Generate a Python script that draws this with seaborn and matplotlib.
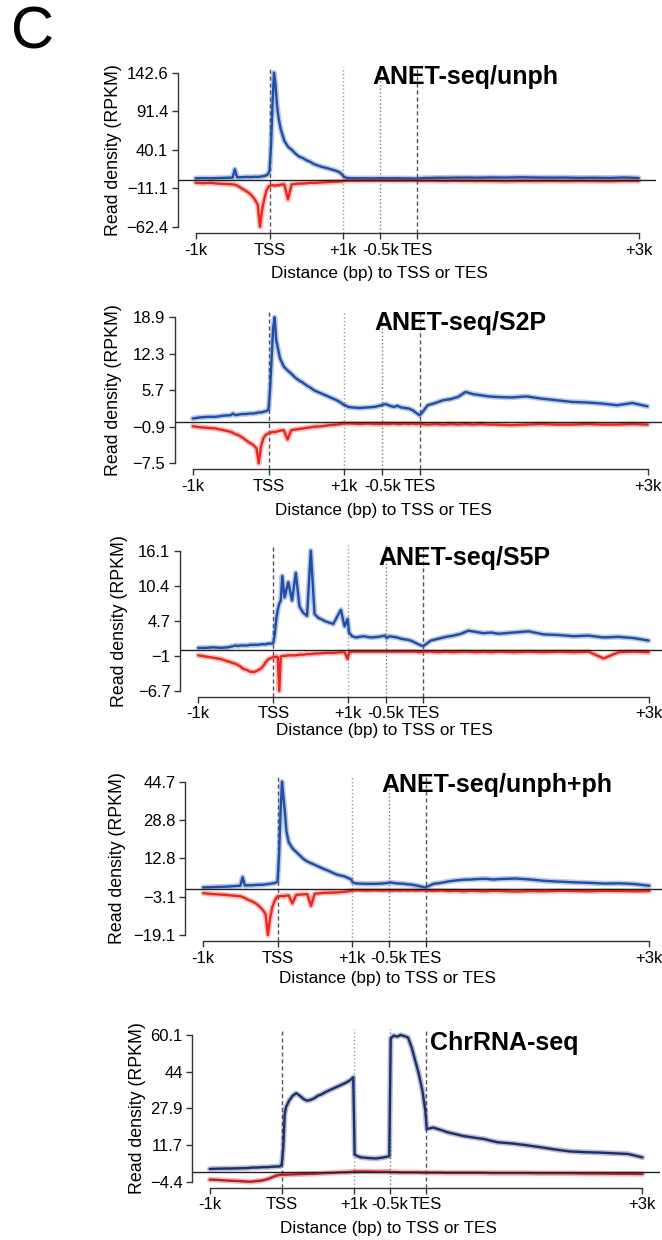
import numpy as np
import pandas as pd
import matplotlib.pyplot as plt
import seaborn as sns

sns.set_theme(style="white")
plt.rcParams['font.family'] = ['Liberation Sans', 'DejaVu Sans']
plt.rcParams['text.color'] = 'black'
plt.rcParams['xtick.color'] = 'black'
plt.rcParams['ytick.color'] = 'black'

# metagene position (kb units): 0=-1k, 1=TSS, 2=+1k, 2.5=-0.5k, 3=TES, 6=+3k
POS = [0.0, 0.1, 0.2, 0.3, 0.4, 0.5, 0.53, 0.56, 0.6, 0.65,
       0.7, 0.75, 0.8, 0.84, 0.87, 0.9, 0.93, 0.96, 0.98, 1.0,
       1.02, 1.04, 1.06, 1.08, 1.1, 1.12, 1.15, 1.2, 1.25, 1.3,
       1.35, 1.4, 1.45, 1.5, 1.55, 1.6, 1.7, 1.8, 1.9, 1.95,
       1.99, 2.01, 2.05, 2.1, 2.2, 2.3, 2.4, 2.49, 2.51, 2.55,
       2.6, 2.65, 2.7, 2.75, 2.8, 2.85, 2.9, 2.95, 2.99, 3.01,
       3.1, 3.2, 3.3, 3.4, 3.5, 3.6, 3.7, 3.8, 3.9, 4.0,
       4.2, 4.4, 4.6, 4.8, 5.0, 5.2, 5.4, 5.6, 5.8, 6.0]

XTICKS = [0, 1, 2, 2.5, 3, 6]
XTICK_LABELS = ['-1k', 'TSS', '+1k', '-0.5k', 'TES', '+3k']

# ANET-seq/unph
unph_sense = [2.0, 2.2, 2.0, 2.4, 2.6, 3.0, 14.0, 3.5, 3.4, 3.6,
              3.8, 3.6, 4.0, 3.8, 4.2, 4.6, 5.0, 6.0, 8.0, 12.0,
              45.0, 100.0, 142.6, 128.0, 100.0, 84.0, 68.0, 52.0, 44.0, 40.0,
              35.0, 31.0, 29.0, 26.0, 24.0, 21.0, 17.5, 15.0, 12.0, 10.0,
              6.0, 4.0, 2.5, 2.2, 2.0, 2.1, 1.9, 2.0, 2.2, 2.0,
              2.1, 1.9, 2.0, 2.2, 2.0, 1.8, 1.9, 1.7, 1.6, 1.8,
              2.4, 2.6, 2.8, 2.7, 3.0, 2.9, 3.1, 2.8, 3.0, 3.2,
              3.0, 3.4, 3.1, 2.9, 3.0, 2.6, 2.8, 2.5, 3.2, 2.4]
unph_anti = [-4.0, -4.5, -4.0, -5.0, -5.5, -6.0, -6.5, -7.5, -10.0, -13.0,
             -16.0, -20.0, -26.0, -33.0, -62.4, -40.0, -25.0, -14.0, -10.0, -8.0,
             -7.5, -7.0, -7.5, -8.0, -7.0, -7.5, -6.5, -6.0, -26.0, -6.0,
             -5.5, -5.0, -5.0, -4.5, -4.0, -4.2, -3.5, -3.0, -2.5, -2.2,
             -1.8, -1.5, -1.2, -1.0, -1.1, -0.9, -1.0, -0.8, -0.9, -1.0,
             -0.9, -1.0, -1.1, -0.9, -1.0, -1.2, -1.0, -0.9, -1.1, -1.0,
             -1.2, -1.0, -1.3, -1.5, -1.2, -1.4, -1.3, -1.6, -1.4, -1.5,
             -1.8, -1.5, -1.6, -1.4, -1.7, -1.5, -1.6, -1.8, -1.4, -1.5]
unph_ticks = ['142.6', '91.4', '40.1', '\u221211.1', '\u221262.4']

# ANET-seq/S2P
s2p_sense = [0.6, 0.8, 0.9, 0.9, 1.1, 1.2, 1.5, 1.2, 1.3, 1.4,
             1.4, 1.5, 1.5, 1.6, 1.7, 1.7, 1.8, 1.9, 2.0, 2.3,
             6.0, 11.5, 17.0, 18.9, 14.8, 13.5, 11.5, 10.0, 9.3, 8.7,
             8.0, 7.5, 7.1, 6.6, 6.2, 5.7, 5.1, 4.5, 3.9, 3.5,
             3.1, 3.0, 2.7, 2.6, 2.5, 2.6, 2.7, 3.0, 3.1, 3.2,
             2.9, 2.7, 2.9, 2.6, 2.5, 2.4, 2.1, 1.6, 1.2, 1.4,
             3.0, 3.4, 3.9, 4.1, 4.5, 5.4, 5.0, 4.8, 4.6, 4.5,
             4.4, 4.6, 4.2, 3.9, 3.6, 3.5, 3.3, 3.0, 3.4, 2.8]
s2p_anti = [-0.8, -1.0, -1.1, -1.2, -1.5, -1.8, -2.0, -2.2, -2.4, -2.8,
            -3.3, -3.8, -4.2, -4.8, -7.5, -4.5, -3.0, -2.4, -2.2, -2.1,
            -2.0, -1.9, -1.8, -1.9, -1.8, -1.7, -1.6, -1.5, -3.2, -1.5,
            -1.4, -1.3, -1.2, -1.1, -1.0, -0.9, -0.8, -0.6, -0.5, -0.4,
            -0.3, -0.3, -0.3, -0.3, -0.4, -0.3, -0.4, -0.4, -0.3, -0.4,
            -0.4, -0.3, -0.4, -0.4, -0.3, -0.4, -0.3, -0.4, -0.3, -0.4,
            -0.5, -0.4, -0.5, -0.4, -0.5, -0.4, -0.5, -0.4, -0.5, -0.5,
            -0.6, -0.5, -0.4, -0.5, -0.5, -0.4, -0.5, -0.5, -0.4, -0.5]
s2p_ticks = ['18.9', '12.3', '5.7', '\u22120.9', '\u22127.5']

# ANET-seq/S5P
s5p_sense = [0.3, 0.3, 0.4, 0.3, 0.4, 0.7, 0.6, 0.7, 0.7, 0.7,
             0.8, 0.8, 0.8, 0.9, 0.9, 0.9, 1.0, 1.0, 1.0, 1.1,
             2.5, 5.0, 6.5, 7.5, 8.0, 12.0, 8.5, 11.0, 8.0, 12.5,
             7.0, 6.0, 5.5, 16.1, 5.8, 5.2, 4.6, 4.2, 6.5, 3.8,
             5.0, 2.8, 2.2, 2.0, 2.2, 2.0, 2.1, 2.3, 1.9, 2.2,
             2.1, 2.0, 1.8, 1.7, 1.6, 1.4, 1.1, 0.8, 0.6, 0.7,
             1.5, 1.8, 2.1, 2.3, 2.6, 3.1, 2.9, 2.7, 2.8, 2.6,
             2.8, 3.0, 2.5, 2.4, 2.2, 2.3, 2.0, 2.1, 1.9, 1.5]
s5p_anti = [-0.9, -1.1, -1.3, -1.5, -1.9, -2.3, -2.5, -2.7, -3.1, -3.3,
            -3.6, -3.6, -3.3, -3.0, -2.6, -2.0, -1.6, -1.4, -1.3, -1.2,
            -1.2, -1.1, -1.2, -6.7, -1.1, -1.0, -1.0, -0.9, -0.9, -0.9,
            -0.8, -0.8, -0.7, -0.7, -0.6, -0.6, -0.5, -0.5, -0.4, -0.4,
            -1.5, -0.4, -0.3, -0.3, -0.3, -0.3, -0.3, -0.3, -0.3, -0.3,
            -0.3, -0.3, -0.3, -0.3, -0.3, -0.3, -0.3, -0.4, -0.3, -0.3,
            -0.3, -0.4, -0.3, -0.4, -0.3, -0.3, -0.4, -0.3, -0.4, -0.3,
            -0.4, -0.3, -0.4, -0.3, -0.4, -0.3, -1.4, -0.4, -0.3, -0.4]
s5p_ticks = ['16.1', '10.4', '4.7', '\u22121', '\u22126.7']

# ANET-seq/unph+ph
all_sense = [0.7, 0.8, 0.9, 1.0, 1.2, 1.4, 5.0, 1.5, 1.6, 1.6,
             1.7, 1.8, 1.8, 2.0, 2.1, 2.2, 2.4, 2.5, 2.8, 3.2,
             14.0, 32.0, 44.7, 38.0, 31.6, 24.0, 19.5, 17.0, 15.5, 14.0,
             12.5, 11.5, 10.8, 10.1, 9.4, 8.7, 7.4, 6.0, 5.3, 4.6,
             4.0, 2.8, 2.4, 2.3, 2.2, 2.2, 2.3, 2.6, 2.8, 2.6,
             2.4, 2.3, 2.2, 2.0, 1.9, 1.6, 1.3, 0.9, 0.7, 1.0,
             2.2, 2.6, 3.2, 3.6, 3.9, 4.0, 4.2, 4.3, 4.0, 4.2,
             4.4, 4.0, 3.4, 3.1, 2.8, 2.6, 2.3, 2.4, 2.1, 1.4]
all_anti = [-1.7, -2.0, -2.2, -2.4, -2.7, -3.0, -3.3, -3.7, -4.4, -5.0,
            -5.8, -7.0, -8.6, -10.5, -19.1, -12.0, -7.5, -5.0, -3.8, -3.0,
            -3.0, -2.9, -2.8, -3.0, -2.8, -2.7, -2.6, -6.0, -2.4, -2.3,
            -2.2, -2.1, -7.0, -1.9, -1.8, -1.6, -1.5, -1.4, -1.1, -0.9,
            -0.7, -0.6, -0.5, -0.5, -0.6, -0.5, -0.6, -0.5, -0.6, -0.6,
            -0.5, -0.6, -0.5, -0.6, -0.5, -0.6, -0.6, -0.5, -0.6, -0.6,
            -0.7, -0.6, -0.8, -0.7, -0.9, -0.7, -0.8, -0.9, -0.7, -0.8,
            -1.0, -0.8, -0.9, -0.7, -0.8, -0.9, -0.7, -0.8, -0.9, -0.8]
all_ticks = ['44.7', '28.8', '12.8', '\u22123.1', '\u221219.1']

# ChrRNA-seq
chr_sense = [1.2, 1.3, 1.4, 1.4, 1.5, 1.6, 1.6, 1.7, 1.8, 1.8,
             1.9, 2.0, 2.0, 2.1, 2.2, 2.2, 2.3, 2.3, 2.4, 3.4,
             10.7, 25.4, 28.5, 29.8, 31.2, 32.0, 33.4, 34.5, 33.4, 32.0,
             31.2, 31.6, 32.3, 33.4, 34.0, 34.9, 36.4, 37.8, 39.3, 40.3,
             41.5, 7.5, 6.8, 6.3, 6.0, 5.8, 6.2, 6.8, 58.5, 59.8,
             59.4, 60.1, 59.6, 59.0, 54.7, 48.8, 43.0, 35.6, 26.8, 18.8,
             19.4, 18.4, 17.3, 16.6, 15.8, 15.3, 14.8, 14.4, 13.6, 12.9,
             12.4, 11.6, 10.7, 9.7, 8.9, 8.6, 8.4, 8.1, 7.8, 6.3]
chr_anti = [-3.5, -3.6, -3.8, -4.0, -4.1, -4.3, -4.4, -4.4, -4.3, -4.1,
            -4.0, -3.7, -3.3, -2.8, -2.4, -2.0, -1.7, -1.5, -1.4, -1.3,
            -1.3, -1.3, -1.3, -1.3, -1.2, -1.2, -1.2, -1.1, -1.1, -1.0,
            -1.0, -0.9, -0.9, -0.8, -0.7, -0.6, -0.5, -0.3, -0.2, -0.1,
            0.0, 0.1, 0.1, 0.1, 0.1, 0.0, 0.0, 0.0, -0.2, -0.2,
            -0.2, -0.3, -0.3, -0.3, -0.3, -0.3, -0.3, -0.4, -0.4, -0.4,
            -0.4, -0.4, -0.5, -0.5, -0.5, -0.5, -0.5, -0.5, -0.6, -0.6,
            -0.6, -0.6, -0.7, -0.7, -0.7, -0.8, -0.8, -0.9, -0.9, -1.0]
chr_ticks = ['60.1', '44', '27.9', '11.7', '\u22124.4']

titles = ['ANET-seq/unph', 'ANET-seq/S2P', 'ANET-seq/S5P', 'ANET-seq/unph+ph', 'ChrRNA-seq']
senses = [unph_sense, s2p_sense, s5p_sense, all_sense, chr_sense]
antis = [unph_anti, s2p_anti, s5p_anti, all_anti, chr_anti]
yticks = [unph_ticks, s2p_ticks, s5p_ticks, all_ticks, chr_ticks]

# layout in pixels: (x of -1k, x of +3k, y of top tick, y of bottom tick)
W, H = 662, 1240
geom = [(195.7, 638.7, 72.7, 226.7),
        (192.8, 647.5, 317.3, 463.3),
        (198.2, 648.6, 550.7, 691.0),
        (203.2, 649.3, 781.7, 935.0),
        (209.7, 642.4, 1035.0, 1181.7)]
title_xy = [(372, 77), (374, 323), (378, 558), (381, 785), (430, 1043)]
xlab_xy = [(379, 273), (383, 510), (384, 730), (387, 978), (388, 1228)]
ylab_x = [113, 114, 120, 117, 137]
line_cols = [('#1f4ea6', '#e8281e')] * 4 + [('#1b2f6b', '#b52025')]

fig = plt.figure(figsize=(W / 100, H / 100), dpi=100)
fig.text(11 / W, 1 - 48.5 / H, 'C', fontsize=43, va='baseline', ha='left')

FS = 12
for i in range(5):
    x0, x6, yt, yb = geom[i]
    dx, dy = 0.04 * (x6 - x0), 0.04 * (yb - yt)
    left, right, top, bottom = x0 - dx, x6 + dx, yt - dy, yb + dy
    ax = fig.add_axes([left / W, 1 - bottom / H, (right - left) / W, (bottom - top) / H])

    tvals = [float(s.replace('\u2212', '-')) for s in yticks[i]]
    vmin, vmax = min(tvals), max(tvals)
    ax.set_xlim(-0.24, 6.24)
    ax.set_ylim(vmin - 0.04 * (vmax - vmin), vmax + 0.04 * (vmax - vmin))

    df = pd.DataFrame({'pos': POS, 'sense': senses[i], 'anti': antis[i]})
    cs, ca = line_cols[i]
    for col, c in [('sense', cs), ('anti', ca)]:
        sns.lineplot(data=df, x='pos', y=col, ax=ax, color=c, lw=4.0, alpha=0.3,
                     estimator=None, clip_on=False, zorder=3)
        sns.lineplot(data=df, x='pos', y=col, ax=ax, color=c, lw=1.7,
                     estimator=None, clip_on=False, zorder=4)

    ax.axhline(0, color='#222222', lw=1.0, zorder=5)
    for xv, ls, c in [(1, (0, (3, 2)), '#555555'), (2, ':', '#9a9a9a'),
                      (2.5, ':', '#777777'), (3, (0, (3, 2)), '#555555')]:
        ax.axvline(xv, color=c, ls=ls, lw=1.0, zorder=2)

    sns.despine(ax=ax)
    for side in ['left', 'bottom']:
        ax.spines[side].set_color('#333333')
        ax.spines[side].set_linewidth(1.0)
    ax.spines['left'].set_bounds(vmin, vmax)
    ax.spines['bottom'].set_bounds(0, 6)
    ax.set_yticks(tvals)
    ax.set_yticklabels(yticks[i], fontsize=FS)
    ax.set_xticks(XTICKS)
    ax.set_xticklabels(XTICK_LABELS, fontsize=FS)
    ax.tick_params(axis='both', direction='out', length=4, width=1.0,
                   color='#333333', pad=3, left=True, bottom=True)
    ax.set_xlabel('')
    ax.set_ylabel('')
    ax.grid(False)

    tx, ty = title_xy[i]
    fig.text(tx / W, 1 - ty / H, titles[i], fontsize=18, fontweight='bold',
             ha='left', va='center')
    lx, ly = xlab_xy[i]
    fig.text(lx / W, 1 - ly / H, 'Distance (bp) to TSS or TES', fontsize=12.3,
             ha='center', va='center')
    fig.text(ylab_x[i] / W, 1 - (top + bottom) / 2 / H, 'Read density (RPKM)',
             fontsize=12.8, rotation=90, ha='center', va='center')

fig.savefig('out.png', dpi=100)
